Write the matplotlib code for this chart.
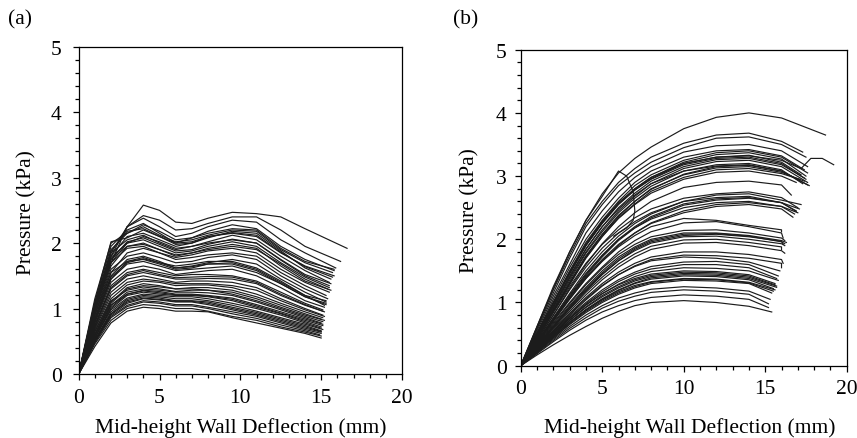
import matplotlib
matplotlib.use("Agg")
import matplotlib.pyplot as plt
from matplotlib.ticker import MultipleLocator

plt.rcParams['font.family'] = ['Liberation Serif', 'DejaVu Serif']

# ---------------------------------------------------------------
# Panel (a): pressure (kPa) read at these deflections (mm).
# Each row: (pressures on A_GRID, end deflection, end pressure)
# ---------------------------------------------------------------
A_GRID = [1, 2, 3, 4, 5, 6, 7, 8, 9.5, 11, 12.5, 14]

A_UPPER = [
    ([0.95, 1.70, 2.25, 2.58, 2.50, 2.32, 2.30, 2.38, 2.47, 2.45, 2.40, 2.22], 16.6, 1.92),
    ([1.00, 1.80, 2.25, 2.42, 2.35, 2.20, 2.22, 2.30, 2.40, 2.40, 2.20, 1.95], 16.2, 1.72),
    ([1.05, 1.85, 2.25, 2.38, 2.25, 2.10, 2.15, 2.25, 2.35, 2.32, 2.05, 1.85], 15.9, 1.62),
    ([1.10, 1.95, 2.20, 2.30, 2.15, 2.00, 2.08, 2.18, 2.28, 2.22, 1.95, 1.75], 15.8, 1.58),
    ([1.15, 2.00, 2.15, 2.28, 2.18, 2.05, 2.08, 2.15, 2.22, 2.20, 1.92, 1.72], 15.8, 1.60),
    ([1.05, 1.90, 2.15, 2.25, 2.12, 2.02, 2.05, 2.12, 2.20, 2.18, 1.90, 1.70], 15.7, 1.55),
    ([1.05, 1.88, 2.18, 2.22, 2.10, 2.00, 2.02, 2.10, 2.16, 2.12, 1.86, 1.64], 15.7, 1.48),
    ([1.10, 2.02, 2.08, 2.20, 2.10, 1.98, 2.00, 2.10, 2.15, 2.10, 1.85, 1.65], 15.8, 1.50),
    ([1.00, 1.80, 2.10, 2.15, 2.05, 1.95, 2.00, 2.08, 2.18, 2.15, 1.88, 1.62], 15.6, 1.45),
    ([1.05, 1.85, 2.05, 2.12, 2.00, 1.90, 1.95, 2.02, 2.12, 2.05, 1.80, 1.58], 15.5, 1.40),
    ([0.95, 1.70, 2.00, 2.10, 2.02, 1.92, 1.95, 2.00, 2.05, 2.00, 1.75, 1.52], 15.6, 1.38),
    ([0.98, 1.75, 2.02, 2.08, 1.98, 1.88, 1.90, 1.98, 2.06, 2.00, 1.74, 1.50], 15.5, 1.35),
    ([1.00, 1.78, 2.00, 2.05, 1.95, 1.85, 1.88, 1.95, 2.02, 1.95, 1.70, 1.48], 15.5, 1.32),
    ([0.90, 1.65, 1.95, 2.00, 1.90, 1.80, 1.85, 1.90, 1.95, 1.90, 1.68, 1.45], 15.4, 1.30),
    ([1.00, 1.75, 1.95, 1.98, 1.90, 1.82, 1.85, 1.92, 1.98, 1.92, 1.65, 1.42], 15.6, 1.28),
    ([0.95, 1.70, 1.92, 1.95, 1.85, 1.78, 1.82, 1.88, 1.92, 1.85, 1.60, 1.40], 15.5, 1.25),
]

A_MIDDLE = [
    ([0.85, 1.55, 1.85, 1.92, 1.85, 1.75, 1.78, 1.82, 1.85, 1.80, 1.55, 1.35], 15.3, 1.20),
    ([0.90, 1.60, 1.80, 1.85, 1.78, 1.70, 1.72, 1.78, 1.82, 1.75, 1.50, 1.30], 15.4, 1.15),
    ([0.85, 1.50, 1.75, 1.80, 1.72, 1.62, 1.65, 1.70, 1.75, 1.68, 1.45, 1.25], 15.3, 1.10),
    ([0.80, 1.45, 1.72, 1.78, 1.70, 1.65, 1.68, 1.72, 1.72, 1.62, 1.42, 1.20], 15.2, 1.05),
    ([0.82, 1.48, 1.70, 1.76, 1.70, 1.62, 1.64, 1.68, 1.68, 1.58, 1.38, 1.18], 15.3, 1.06),
    ([0.90, 1.55, 1.72, 1.75, 1.68, 1.60, 1.62, 1.68, 1.70, 1.60, 1.40, 1.20], 15.3, 1.12),
    ([0.82, 1.45, 1.68, 1.72, 1.65, 1.58, 1.60, 1.62, 1.65, 1.55, 1.38, 1.18], 15.3, 1.08),
    ([0.78, 1.40, 1.60, 1.65, 1.60, 1.52, 1.55, 1.58, 1.60, 1.50, 1.32, 1.12], 15.2, 1.02),
    ([0.75, 1.35, 1.55, 1.60, 1.55, 1.50, 1.52, 1.52, 1.50, 1.42, 1.25, 1.08], 15.1, 0.98),
    ([0.74, 1.32, 1.52, 1.58, 1.52, 1.47, 1.48, 1.49, 1.48, 1.40, 1.22, 1.06], 15.1, 0.96),
    ([0.72, 1.30, 1.50, 1.55, 1.50, 1.45, 1.45, 1.46, 1.45, 1.38, 1.20, 1.05], 15.2, 0.95),
    ([0.70, 1.25, 1.45, 1.50, 1.45, 1.40, 1.42, 1.42, 1.40, 1.32, 1.15, 1.00], 15.1, 0.90),
    ([0.68, 1.20, 1.40, 1.45, 1.42, 1.38, 1.38, 1.38, 1.35, 1.28, 1.12, 0.98], 15.2, 0.88),
    ([0.65, 1.15, 1.36, 1.42, 1.40, 1.35, 1.36, 1.36, 1.32, 1.22, 1.08, 0.95], 15.1, 0.86),
    ([0.62, 1.10, 1.32, 1.38, 1.35, 1.30, 1.32, 1.32, 1.28, 1.18, 1.05, 0.92], 15.0, 0.84),
]

A_LOWER = [
    ([0.65, 1.12, 1.28, 1.33, 1.30, 1.26, 1.28, 1.28, 1.25, 1.15, 1.02, 0.90], 15.2, 0.82),
    ([0.60, 1.08, 1.30, 1.35, 1.33, 1.30, 1.30, 1.28, 1.22, 1.12, 1.00, 0.88], 15.1, 0.80),
    ([0.58, 1.05, 1.25, 1.30, 1.28, 1.25, 1.25, 1.24, 1.20, 1.10, 0.98, 0.86], 15.0, 0.78),
    ([0.60, 1.05, 1.22, 1.28, 1.26, 1.22, 1.22, 1.20, 1.16, 1.06, 0.95, 0.84], 15.1, 0.76),
    ([0.56, 1.02, 1.22, 1.27, 1.24, 1.21, 1.21, 1.19, 1.14, 1.04, 0.93, 0.82], 15.1, 0.74),
    ([0.55, 1.00, 1.20, 1.25, 1.22, 1.20, 1.20, 1.18, 1.12, 1.02, 0.92, 0.80], 15.0, 0.72),
    ([0.55, 0.98, 1.16, 1.22, 1.20, 1.18, 1.18, 1.15, 1.08, 1.00, 0.90, 0.78], 15.0, 0.70),
    ([0.52, 0.95, 1.14, 1.20, 1.18, 1.15, 1.15, 1.12, 1.05, 0.96, 0.86, 0.76], 15.1, 0.68),
    ([0.52, 0.92, 1.12, 1.18, 1.16, 1.12, 1.12, 1.10, 1.02, 0.94, 0.84, 0.74], 15.0, 0.66),
    ([0.51, 0.92, 1.10, 1.16, 1.14, 1.11, 1.11, 1.08, 1.00, 0.92, 0.82, 0.72], 15.0, 0.65),
    ([0.50, 0.90, 1.08, 1.15, 1.13, 1.10, 1.10, 1.06, 0.98, 0.90, 0.80, 0.70], 15.0, 0.64),
    ([0.50, 0.88, 1.05, 1.12, 1.10, 1.06, 1.06, 1.02, 0.95, 0.88, 0.78, 0.68], 15.0, 0.62),
    ([0.48, 0.86, 1.03, 1.10, 1.08, 1.04, 1.04, 1.00, 0.92, 0.85, 0.75, 0.66], 14.9, 0.60),
    ([0.46, 0.82, 1.00, 1.06, 1.04, 1.00, 1.00, 0.96, 0.88, 0.82, 0.72, 0.64], 15.0, 0.58),
    ([0.42, 0.78, 0.96, 1.02, 1.00, 0.96, 0.96, 0.95, 0.86, 0.78, 0.70, 0.62], 15.0, 0.55),
]

# ---------------------------------------------------------------
# Panel (b): same layout, coarser grid past 8 mm
# ---------------------------------------------------------------
B_GRID = [1, 2, 3, 4, 5, 6, 7, 8, 10, 12, 14, 16]

B_TOP = [
    ([0.62, 1.22, 1.80, 2.30, 2.72, 3.05, 3.28, 3.46, 3.75, 3.93, 4.00, 3.92], 18.7, 3.65),
    ([0.60, 1.20, 1.75, 2.25, 2.60, 2.90, 3.12, 3.30, 3.52, 3.65, 3.68, 3.55], 17.3, 3.38),
    ([0.58, 1.15, 1.70, 2.20, 2.55, 2.85, 3.05, 3.22, 3.45, 3.60, 3.62, 3.50], 17.5, 3.30),
    ([0.55, 1.10, 1.60, 2.10, 2.45, 2.75, 2.98, 3.15, 3.38, 3.48, 3.50, 3.40], 17.6, 3.15),
    ([0.52, 1.05, 1.55, 2.00, 2.35, 2.65, 2.90, 3.08, 3.30, 3.40, 3.42, 3.32], 17.4, 3.10),
    ([0.50, 1.00, 1.50, 1.95, 2.30, 2.60, 2.85, 3.02, 3.25, 3.37, 3.40, 3.30], 17.6, 3.05),
    ([0.49, 0.98, 1.46, 1.90, 2.26, 2.56, 2.80, 2.98, 3.22, 3.34, 3.37, 3.27], 17.5, 3.00),
    ([0.48, 0.98, 1.45, 1.90, 2.25, 2.55, 2.78, 2.96, 3.20, 3.30, 3.33, 3.22], 17.2, 3.02),
    ([0.50, 1.00, 1.48, 1.92, 2.28, 2.56, 2.78, 2.95, 3.18, 3.28, 3.30, 3.20], 17.5, 2.95),
    ([0.47, 0.94, 1.40, 1.84, 2.20, 2.50, 2.73, 2.92, 3.15, 3.26, 3.28, 3.18], 17.4, 2.97),
    ([0.46, 0.92, 1.38, 1.80, 2.15, 2.45, 2.68, 2.88, 3.12, 3.23, 3.25, 3.15], 17.6, 2.90),
    ([0.45, 0.90, 1.35, 1.78, 2.12, 2.42, 2.65, 2.84, 3.08, 3.18, 3.20, 3.10], 17.3, 2.88),
    ([0.47, 0.95, 1.42, 1.85, 2.20, 2.48, 2.70, 2.88, 3.08, 3.16, 3.18, 3.08], 17.7, 2.85),
    ([0.44, 0.87, 1.30, 1.72, 2.07, 2.36, 2.60, 2.79, 3.03, 3.15, 3.17, 3.08], 17.6, 2.86),
    ([0.44, 0.88, 1.32, 1.74, 2.08, 2.38, 2.60, 2.80, 3.02, 3.13, 3.15, 3.06], 17.4, 2.92),
    ([0.42, 0.85, 1.28, 1.70, 2.04, 2.34, 2.56, 2.76, 2.98, 3.10, 3.12, 3.04], 17.1, 2.95),
    ([0.43, 0.86, 1.30, 1.72, 2.05, 2.33, 2.55, 2.73, 2.95, 3.06, 3.08, 3.00], 16.9, 2.90),
    ([0.40, 0.80, 1.22, 1.60, 1.93, 2.20, 2.42, 2.60, 2.82, 2.90, 2.92, 2.86], 16.6, 2.70),
]

B_MID = [
    ([0.42, 0.84, 1.25, 1.62, 1.92, 2.15, 2.34, 2.48, 2.65, 2.72, 2.75, 2.66], 17.0, 2.50),
    ([0.38, 0.76, 1.14, 1.50, 1.80, 2.05, 2.25, 2.40, 2.60, 2.70, 2.72, 2.62], 17.2, 2.55),
    ([0.40, 0.80, 1.20, 1.56, 1.86, 2.10, 2.28, 2.42, 2.60, 2.66, 2.68, 2.58], 16.9, 2.45),
    ([0.37, 0.74, 1.10, 1.44, 1.74, 2.00, 2.20, 2.36, 2.56, 2.64, 2.66, 2.58], 16.9, 2.44),
    ([0.36, 0.72, 1.08, 1.42, 1.72, 1.98, 2.18, 2.34, 2.54, 2.62, 2.65, 2.58], 17.1, 2.48),
    ([0.38, 0.75, 1.12, 1.46, 1.75, 2.00, 2.18, 2.32, 2.50, 2.58, 2.60, 2.52], 16.8, 2.40),
    ([0.35, 0.70, 1.05, 1.38, 1.66, 1.90, 2.10, 2.26, 2.45, 2.55, 2.58, 2.52], 17.0, 2.42),
    ([0.36, 0.72, 1.08, 1.40, 1.68, 1.92, 2.10, 2.25, 2.42, 2.52, 2.55, 2.48], 16.7, 2.35),
    ([0.36, 0.72, 1.06, 1.38, 1.65, 1.88, 2.06, 2.20, 2.33, 2.30, 2.22, 2.15], 16.0, 2.12),
    ([0.34, 0.68, 1.00, 1.30, 1.56, 1.80, 1.98, 2.12, 2.26, 2.28, 2.20, 2.10], 16.1, 2.02),
    ([0.33, 0.66, 0.98, 1.28, 1.54, 1.76, 1.92, 2.04, 2.14, 2.15, 2.10, 2.02], 16.2, 1.98),
    ([0.32, 0.64, 0.95, 1.24, 1.50, 1.72, 1.88, 2.00, 2.10, 2.10, 2.06, 1.98], 16.3, 1.95),
    ([0.31, 0.62, 0.93, 1.22, 1.47, 1.69, 1.86, 1.98, 2.08, 2.09, 2.05, 1.96], 16.2, 1.93),
    ([0.30, 0.60, 0.90, 1.18, 1.44, 1.66, 1.84, 1.96, 2.06, 2.08, 2.04, 1.97], 16.1, 1.92),
    ([0.31, 0.62, 0.92, 1.20, 1.45, 1.66, 1.82, 1.94, 2.04, 2.05, 2.00, 1.93], 16.2, 1.90),
    ([0.30, 0.60, 0.89, 1.16, 1.40, 1.61, 1.77, 1.89, 1.99, 2.00, 1.95, 1.88], 16.0, 1.84),
    ([0.29, 0.58, 0.86, 1.12, 1.36, 1.56, 1.72, 1.84, 1.94, 1.95, 1.90, 1.82], 16.2, 1.78),
]

B_LOW = [
    ([0.28, 0.56, 0.83, 1.08, 1.30, 1.48, 1.62, 1.72, 1.80, 1.80, 1.76, 1.68], 16.1, 1.62),
    ([0.27, 0.54, 0.80, 1.04, 1.26, 1.44, 1.58, 1.68, 1.75, 1.74, 1.70, 1.62], 16.0, 1.55),
    ([0.28, 0.55, 0.82, 1.06, 1.27, 1.44, 1.57, 1.66, 1.72, 1.70, 1.64], 15.9, 1.50),
    ([0.27, 0.53, 0.78, 1.00, 1.20, 1.36, 1.48, 1.57, 1.64, 1.65, 1.60], 15.8, 1.42),
    ([0.26, 0.52, 0.76, 0.98, 1.17, 1.33, 1.45, 1.53, 1.60, 1.60, 1.55], 15.7, 1.38),
    ([0.25, 0.50, 0.74, 0.96, 1.14, 1.29, 1.41, 1.49, 1.55, 1.54, 1.50], 15.8, 1.35),
    ([0.26, 0.51, 0.75, 0.96, 1.14, 1.28, 1.38, 1.45, 1.50, 1.49, 1.44], 15.6, 1.30),
    ([0.245, 0.49, 0.72, 0.93, 1.11, 1.25, 1.36, 1.43, 1.48, 1.47, 1.42], 15.6, 1.28),
    ([0.24, 0.48, 0.71, 0.92, 1.09, 1.23, 1.34, 1.41, 1.46, 1.45, 1.40], 15.7, 1.26),
    ([0.23, 0.46, 0.68, 0.89, 1.06, 1.20, 1.31, 1.39, 1.44, 1.43, 1.38], 15.7, 1.24),
    ([0.23, 0.46, 0.68, 0.88, 1.05, 1.19, 1.30, 1.37, 1.42, 1.41, 1.36], 15.5, 1.22),
    ([0.24, 0.47, 0.69, 0.88, 1.04, 1.17, 1.27, 1.33, 1.38, 1.37, 1.32], 15.6, 1.20),
    ([0.22, 0.44, 0.66, 0.86, 1.02, 1.15, 1.25, 1.32, 1.37, 1.36, 1.31], 15.5, 1.18),
    ([0.22, 0.44, 0.65, 0.84, 1.00, 1.13, 1.23, 1.30, 1.35, 1.34, 1.30], 15.4, 1.15),
    ([0.21, 0.42, 0.62, 0.80, 0.95, 1.07, 1.15, 1.21, 1.25, 1.23, 1.18], 15.3, 1.05),
    ([0.20, 0.40, 0.59, 0.76, 0.91, 1.02, 1.10, 1.16, 1.20, 1.18, 1.13], 15.2, 0.98),
    ([0.19, 0.38, 0.56, 0.72, 0.85, 0.95, 1.03, 1.08, 1.12, 1.10, 1.05], 15.2, 0.92),
    ([0.17, 0.33, 0.48, 0.62, 0.75, 0.86, 0.95, 1.00, 1.03, 1.00, 0.94], 15.4, 0.85),
]

# two odd test curves in (b): one doubles back near 7 mm, one hooks up at the end
B_LOOP_X = [0, 1, 2, 3, 4, 5, 6.0, 6.5, 6.9, 7.0, 6.9, 6.5, 5.7]
B_LOOP_Y = [0, 0.62, 1.25, 1.80, 2.30, 2.68, 3.08, 3.00, 2.75, 2.45, 2.30, 2.18, 2.05]
B_HOOK_X = [0, 1, 2, 3, 4, 5, 6, 7, 8, 10, 12, 14, 16, 17.2, 17.8, 18.5, 19.2]
B_HOOK_Y = [0, 0.50, 1.00, 1.48, 1.92, 2.28, 2.58, 2.80, 2.98, 3.20, 3.30, 3.32, 3.25, 3.12, 3.28, 3.28, 3.18]

LINE_COLOR = '#1c1c1c'
LINE_WIDTH = 0.85
FONT_SIZE = 15.5


def draw_curves(ax, grid, rows):
    for ys, x_end, y_end in rows:
        x = [0] + grid[:len(ys)] + [x_end]
        y = [0] + ys + [y_end]
        ax.plot(x, y, color=LINE_COLOR, lw=LINE_WIDTH)


def style_axes(ax, xpad, ypad, xlab_x, xlab_y, ylab_x):
    ax.set_xlim(0, 20)
    ax.set_ylim(0, 5)
    ax.xaxis.set_major_locator(MultipleLocator(5))
    ax.xaxis.set_minor_locator(MultipleLocator(1))
    ax.yaxis.set_major_locator(MultipleLocator(1))
    ax.yaxis.set_minor_locator(MultipleLocator(0.2))
    ax.tick_params(which='both', direction='out', top=False, right=False, width=0.9,
                   labelsize=FONT_SIZE)
    ax.tick_params(which='major', length=4.3)
    ax.tick_params(which='minor', length=2.8)
    ax.tick_params(axis='x', which='both', pad=xpad)
    ax.tick_params(axis='y', which='both', pad=ypad)
    for sp in ax.spines.values():
        sp.set_linewidth(0.9)

    ax.set_xlabel('Mid-height Wall Deflection (mm)', fontsize=FONT_SIZE)
    ax.set_ylabel('Pressure (kPa)', fontsize=FONT_SIZE)
    ax.xaxis.set_label_coords(xlab_x, xlab_y)
    ax.xaxis.label.set_va('center')
    ax.yaxis.set_label_coords(ylab_x, 0.495)
    ax.yaxis.label.set_va('center')


fig = plt.figure(figsize=(8.57, 4.39), dpi=100)

ax_a = fig.add_axes([0.0918, 0.1458, 0.3773, 0.7455])
draw_curves(ax_a, A_GRID, A_UPPER)
draw_curves(ax_a, A_GRID, A_MIDDLE)
draw_curves(ax_a, A_GRID, A_LOWER)
style_axes(ax_a, xpad=6, ypad=8, xlab_x=0.5, xlab_y=-0.162, ylab_x=-0.16)

ax_b = fig.add_axes([0.6076, 0.1647, 0.3804, 0.7198])
draw_curves(ax_b, B_GRID, B_TOP)
draw_curves(ax_b, B_GRID, B_MID)
draw_curves(ax_b, B_GRID, B_LOW)
ax_b.plot(B_LOOP_X, B_LOOP_Y, color=LINE_COLOR, lw=LINE_WIDTH)
ax_b.plot(B_HOOK_X, B_HOOK_Y, color=LINE_COLOR, lw=LINE_WIDTH)
style_axes(ax_b, xpad=5.5, ypad=5.8, xlab_x=0.517, xlab_y=-0.194, ylab_x=-0.155)

fig.text(8 / 857, 1 - 20 / 439, '(a)', fontsize=FONT_SIZE, va='center')
fig.text(453 / 857, 1 - 20 / 439, '(b)', fontsize=FONT_SIZE, va='center')

fig.savefig('out.png', dpi=100)
